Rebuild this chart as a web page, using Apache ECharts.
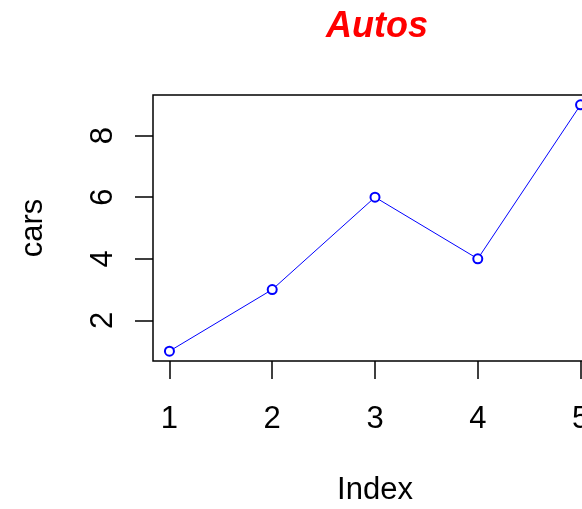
<!DOCTYPE html>
<html lang="en" style="height: 100%">
<head>
    <meta charset="utf-8">
    <title>Autos</title>
    <script src="https://cdn.jsdelivr.net/npm/echarts@6/dist/echarts.min.js"></script>
</head>
<body style="height: 100%; margin: 0; background: #fff; overflow: hidden">
<!-- the plot box runs past the right edge of the window, so the chart is wider than the page -->
<div id="container" style="width: 600px; height: 509px"></div>
<script type="text/javascript">
    // values
    var carIndex = [1, 2, 3, 4, 5];
    var cars = [1, 3, 6, 4, 9];
    var xTicks = [1, 2, 3, 4, 5];
    var yTicks = [2, 4, 6, 8];

    var points = carIndex.map(function (v, i) {
        return [v, cars[i]];
    });

    var labelFont = {
        fontFamily: 'Liberation Sans',
        fontSize: 31,
        color: '#000'
    };

    var myChart = echarts.init(document.getElementById('container'), null, {renderer: 'canvas'});

    var option = {
        animation: false,
        title: {
            text: 'Autos',
            left: 372,
            top: 4,
            textAlign: 'center',
            textStyle: {
                fontFamily: 'Liberation Sans',
                fontSize: 36,
                fontWeight: 'bold',
                fontStyle: 'italic',
                color: '#ff0000'
            }
        },
        grid: {
            show: true,
            left: 153,
            top: 95,
            right: 3,
            bottom: 148,
            borderColor: '#000',
            borderWidth: 1.5,
            containLabel: false,
            outerBoundsMode: 'none'
        },
        xAxis: {
            type: 'value',
            min: 0.84,
            max: 5.16,
            name: 'Index',
            nameLocation: 'middle',
            nameGap: 114,
            nameTextStyle: labelFont,
            axisLine: {show: false},
            splitLine: {show: false},
            axisTick: {
                show: true,
                length: 18,
                customValues: xTicks,
                lineStyle: {color: '#000', width: 1.5}
            },
            axisLabel: Object.assign({
                margin: 43,
                customValues: xTicks
            }, labelFont)
        },
        yAxis: {
            type: 'value',
            min: 0.68,
            max: 9.32,
            name: 'cars',
            nameLocation: 'middle',
            nameGap: 104,
            nameRotate: 90,
            nameTextStyle: labelFont,
            axisLine: {show: false},
            splitLine: {show: false},
            axisTick: {
                show: true,
                length: 18,
                customValues: yTicks,
                lineStyle: {color: '#000', width: 1.5}
            },
            axisLabel: Object.assign({
                margin: 34,
                rotate: 90,
                customValues: yTicks
            }, labelFont)
        },
        series: [
            {
                type: 'line',
                data: points,
                symbol: 'emptyCircle',
                symbolSize: 9,
                lineStyle: {color: '#0000ff', width: 1},
                itemStyle: {color: '#0000ff', borderWidth: 1}
            }
        ]
    };

    myChart.setOption(option);
</script>
</body>
</html>
